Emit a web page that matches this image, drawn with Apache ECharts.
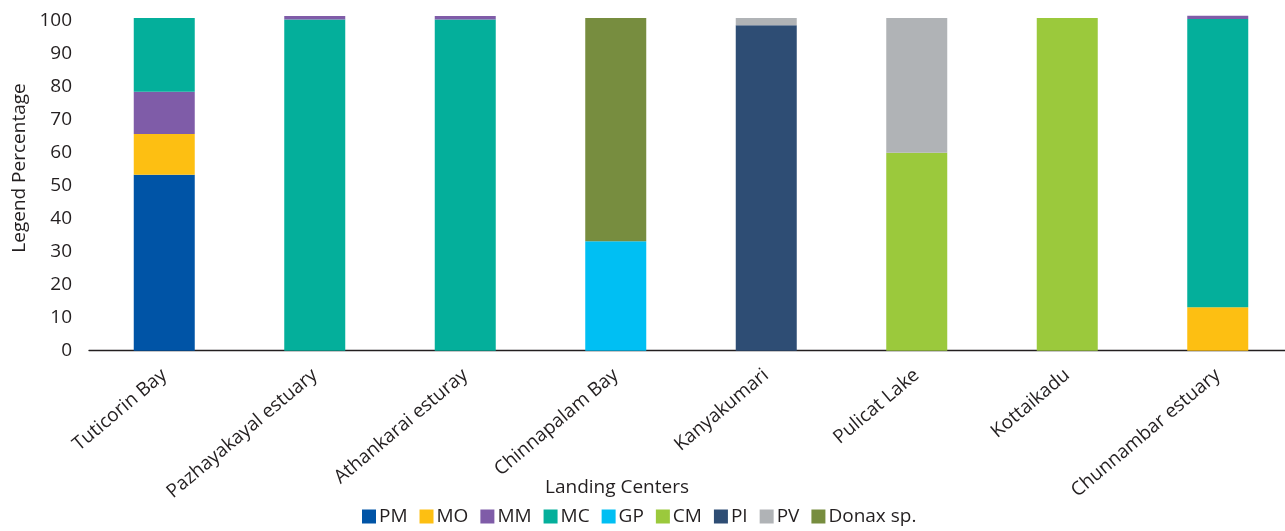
<!DOCTYPE html>
<html><head><meta charset="utf-8">
<script src="https://cdn.jsdelivr.net/npm/echarts@6/dist/echarts.min.js"></script>
<style>html,body{margin:0;padding:0;background:#fff;overflow:hidden;width:1285px;height:531px}#c{width:1293px;height:531px}</style>
</head><body><div id="c"></div>
<script>
const categories = ["Tuticorin Bay","Pazhayakayal estuary","Athankarai esturay","Chinnapalam Bay","Kanyakumari","Pulicat Lake","Kottaikadu","Chunnambar estuary"];
const seriesNames = ["PM","MO","MM","MC","GP","CM","PI","PV","Donax sp."];
const PM    = [53.3, 0, 0, 0, 0, 0, 0, 0];
const MO    = [12.4, 0, 0, 0, 0, 0, 0, 13.2];
const MM    = [12.8, 0, 0, 0, 0, 0, 0, 0];
const MC    = [22.3, 100.4, 100.4, 0, 0, 0, 0, 87.3];
const GP    = [0, 0, 0, 33.2, 0, 0, 0, 0];
const CM    = [0, 0, 0, 0, 0, 60.0, 100.8, 0];
const PI    = [0, 0, 0, 0, 98.6, 0, 0, 0];
const PV    = [0, 0, 0, 0, 2.2, 40.8, 0, 0];
const Donax = [0, 0, 0, 67.6, 0, 0, 0, 0];
const MMtop = [0, 1.0, 1.0, 0, 0, 0, 0, 1.0];
const yTicks = [0,10,20,30,40,50,60,70,80,90,100];
const colors = ["#0054A6","#FDBF12","#7F5CA8","#04AF9B","#00BFF3","#9BC93C","#2E4D74","#B0B3B6","#778D3F"];
const values = [PM, MO, MM, MC, GP, CM, PI, PV, Donax];

const font = "'Open Sans', 'Noto Sans', sans-serif";
const ink = '#231f20';
const chart = echarts.init(document.getElementById('c'));
const series = seriesNames.map((n,i)=>({
  name:n, type:'bar', stack:'s', barWidth:61, clip:false,
  itemStyle:{color:colors[i]},
  data: values[i].map(v=> v===0 ? '-' : v)
}));
series.push({name:'MM', type:'bar', stack:'s', barWidth:61, clip:false,
  itemStyle:{color:colors[2]}, data: MMtop.map(v=> v===0 ? '-' : v)});
chart.setOption({
  animation:false,
  textStyle:{fontFamily:font},
  title:{text:'Landing Centers', left:540, top:473,
    textStyle:{fontFamily:font, fontSize:19, fontWeight:'normal', color:ink}},
  graphic:[{type:'text', x:20, y:168, rotation:Math.PI/2,
    style:{text:'Legend Percentage', font:"19px 'Open Sans', sans-serif", fill:ink, textAlign:'center', textVerticalAlign:'middle'}}],
  legend:{bottom:0, left:357, data:seriesNames, icon:'rect', itemWidth:14, itemHeight:14, itemGap:12,
    textStyle:{fontFamily:font, fontSize:19, color:ink, padding:[0,0,0,-2]}},
  grid:{left:89, top:20.7, width:1204, height:330, containLabel:false},
  xAxis:{type:'category', data:categories,
    axisLine:{lineStyle:{color:ink, width:1.3}}, axisTick:{show:false},
    axisLabel:{rotate:40, fontSize:19, color:ink, fontFamily:font, margin:22, interval:0}},
  yAxis:{type:'value', min:0, max:100, interval:10,
    axisLine:{show:false}, axisTick:{show:false}, splitLine:{show:false},
    axisLabel:{fontSize:19, color:ink, fontFamily:font, margin:17,
      formatter:v=> yTicks.includes(v) ? String(v) : ''}},
  series
});
</script></body></html>
